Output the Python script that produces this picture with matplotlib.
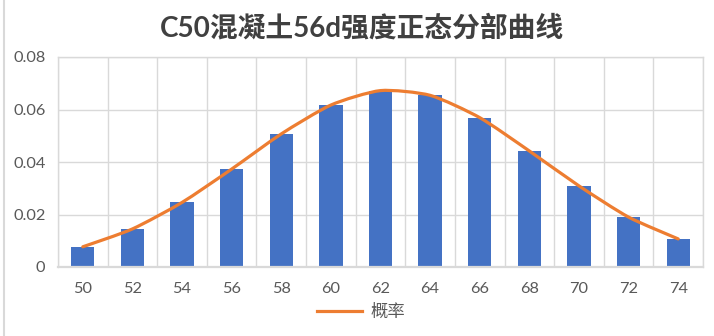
import matplotlib
matplotlib.use("Agg")
import matplotlib.pyplot as plt
from matplotlib.path import Path
from matplotlib.patches import PathPatch
from matplotlib.lines import Line2D
import numpy as np

plt.rcParams['font.family'] = ['Lato', 'Noto Sans CJK SC', 'DejaVu Sans']

# Strength classes (MPa) and probability per class
strength = [50, 52, 54, 56, 58, 60, 62, 64, 66, 68, 70, 72, 74]
probability = [0.0077, 0.0145, 0.0246, 0.0373, 0.0507, 0.0617, 0.0672,
               0.0654, 0.0569, 0.0442, 0.0309, 0.0190, 0.0107]
y_ticks = [0, 0.02, 0.04, 0.06, 0.08]
y_tick_labels = ['0', '0.02', '0.04', '0.06', '0.08']

title = 'C50混凝土56d强度正态分部曲线'
series_name = '概率'

BAR_C = '#4472C4'
LINE_C = '#ED7D31'
GRID_C = '#D9D9D9'
TEXT_C = '#595959'

W, H = 714, 336
fig = plt.figure(figsize=(W / 100, H / 100), dpi=100)
fig.patch.set_facecolor('white')

# thin chart-area border on the left
fig.add_artist(Line2D([4 / W, 4 / W], [0, 1], transform=fig.transFigure,
                      color='#D9D9D9', lw=1.5))

ax = fig.add_axes([58 / W, (H - 267) / H, 645 / W, 210 / H])
x = np.arange(len(strength))

ax.bar(x, probability, width=0.47, color=BAR_C, zorder=2)

# smoothed line through the points (cubic Bezier segments)
pts = np.column_stack([x, probability]).astype(float)
ext = np.vstack([pts[0], pts, pts[-1]])
k = 1.0 / 9.0
verts = [tuple(pts[0])]
codes = [Path.MOVETO]
for i in range(len(pts) - 1):
    p0, p1, p2, p3 = ext[i], ext[i + 1], ext[i + 2], ext[i + 3]
    c1 = p1 + (p2 - p0) * k
    c2 = p2 - (p3 - p1) * k
    verts += [tuple(c1), tuple(c2), tuple(p2)]
    codes += [Path.CURVE4] * 3
ax.add_patch(PathPatch(Path(verts, codes), facecolor='none', edgecolor=LINE_C,
                       lw=2.3, capstyle='round', joinstyle='round', zorder=3))

ax.set_xlim(-0.5, len(strength) - 0.5)
ax.set_ylim(0, 0.08)
ax.set_xticks(x)
ax.set_xticklabels([str(s) for s in strength])
ax.set_yticks(y_ticks)
ax.set_yticklabels(y_tick_labels)
ax.set_xticks(np.arange(len(strength) + 1) - 0.5, minor=True)

ax.grid(True, which='major', axis='y', color=GRID_C, lw=1, zorder=0)
ax.grid(True, which='minor', axis='x', color=GRID_C, lw=1, zorder=0)
ax.set_axisbelow(True)
ax.tick_params(which='both', length=0)
ax.tick_params(axis='x', pad=11, labelsize=11.8, labelcolor=TEXT_C)
ax.tick_params(axis='y', pad=9, labelsize=11.8, labelcolor=TEXT_C)
for s in ax.spines.values():
    s.set_color(GRID_C)
    s.set_linewidth(1)
ax.spines['bottom'].set_linewidth(1.6)

fig.text(362 / W, 1 - 28 / H, title, ha='center', va='center',
         fontsize=20, fontweight='bold', color='#404040')

handle = Line2D([], [], color=LINE_C, lw=2.3)
fig.legend([handle], [series_name], loc='center',
           bbox_to_anchor=(361 / W, 1 - 312 / H), frameon=False,
           fontsize=12.5, labelcolor=TEXT_C, handlelength=2.6, handletextpad=0.5)

fig.savefig('out.png', dpi=100, facecolor='white')
